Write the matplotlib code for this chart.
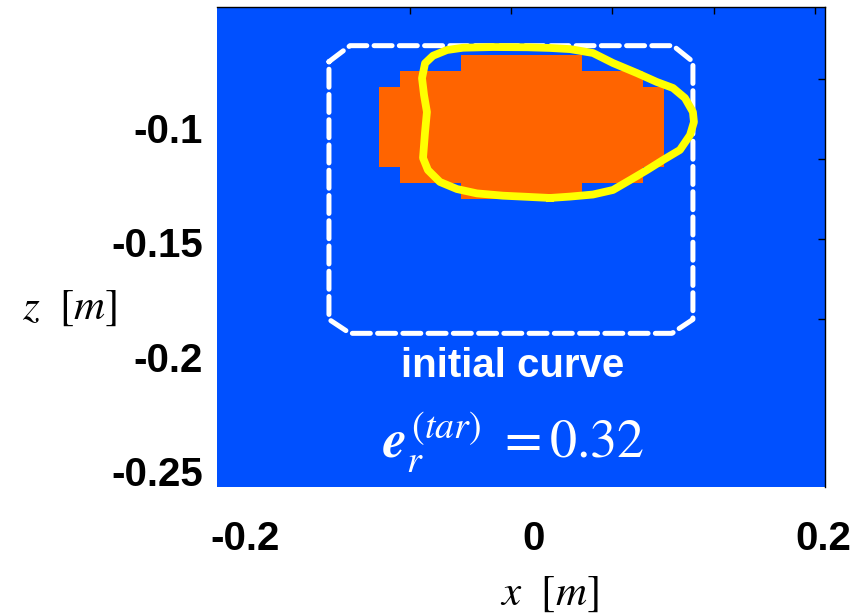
import numpy as np
import matplotlib
matplotlib.use("Agg")
import matplotlib.pyplot as plt
from matplotlib.colors import ListedColormap

plt.rcParams['axes.unicode_minus'] = False
plt.rcParams['mathtext.fontset'] = 'stix'

# ---- data ----
N = 30
XLIM = (-0.2194, 0.2014)
YLIM = (-0.257, -0.0471)
# orange blocks: (col_start, col_end, row_start, row_end), inclusive, row 0 at top
blocks = [(8, 8, 5, 9), (9, 11, 4, 10), (12, 17, 3, 11), (18, 20, 4, 10), (21, 21, 5, 9)]

xticks = [-0.2, 0.0, 0.2]
xticklabels = ['-0.2', '0', '0.2']
yticks = [-0.1, -0.15, -0.2, -0.25]
yticklabels = ['-0.1', '-0.15', '-0.2', '-0.25']
# image-index tick marks (1-based), shown on top/right
x_index_ticks = [10, 15, 20, 25, 30]
y_index_ticks = [5, 10, 15, 20]

box_x = [-0.1419, -0.1273, 0.0962, 0.1100, 0.1100, 0.0955, -0.1273, -0.1419, -0.1419]
box_y = [-0.0710, -0.0640, -0.0640, -0.0710, -0.1837, -0.1898, -0.1898, -0.1837, -0.0710]

curve_x = [0.0111, 0.0249, 0.0408, 0.0547, 0.0664, 0.0782, 0.0893, 0.1010, 0.1080, 0.1107,
           0.1100, 0.1045, 0.0962, 0.0851, 0.0713, 0.0547, 0.0408, 0.0249, 0.0111, -0.0048,
           -0.0284, -0.0491, -0.0602, -0.0699, -0.0754, -0.0775, -0.0761, -0.0741, -0.0754,
           -0.0768, -0.0734, -0.0651, -0.0533, -0.0395, -0.0215, -0.0048, 0.0111]
curve_y = [-0.1306, -0.1300, -0.1291, -0.1271, -0.1228, -0.1184, -0.1140, -0.1096, -0.1031,
           -0.0974, -0.0930, -0.0869, -0.0825, -0.0799, -0.0760, -0.0716, -0.0672, -0.0655,
           -0.0650, -0.0647, -0.0646, -0.0649, -0.0659, -0.0684, -0.0717, -0.0782, -0.0856,
           -0.0930, -0.1018, -0.1131, -0.1184, -0.1236, -0.1267, -0.1286, -0.1296, -0.1301,
           -0.1306]

BLUE = '#0050FF'
ORANGE = '#FF6400'

# ---- build image ----
img = np.zeros((N, N))
for c0, c1, r0, r1 in blocks:
    img[r0:r1 + 1, c0:c1 + 1] = 1

fig = plt.figure(figsize=(8.59, 6.16), dpi=100)
ax = fig.add_axes([0.2526, 0.2094, 0.9604 - 0.2526, 0.9886 - 0.2094])
ax.imshow(img, cmap=ListedColormap([BLUE, ORANGE]), vmin=0, vmax=1,
          extent=(XLIM[0], XLIM[1], YLIM[0], YLIM[1]), origin='upper',
          aspect='auto', interpolation='nearest')

ax.plot(box_x, box_y, color='white', lw=3.6, linestyle=(0, (3.6, 1.45)),
        dash_capstyle='round', solid_capstyle='round')
ax.plot(curve_x, curve_y, color='#FFFF00', lw=5.6, solid_joinstyle='round')

ax.set_xlim(XLIM)
ax.set_ylim(YLIM)

ax.text(-0.0149, -0.2041, 'initial curve', color='white', fontsize=29,
        fontweight='bold', family='Liberation Sans', ha='center', va='center')
ax.text(-0.0142, -0.2443, r'$\mathbfit{e}_r^{\,(tar)}\ =0.32$', color='white',
        fontsize=39, ha='center', va='baseline')

# ticks
dx = (XLIM[1] - XLIM[0]) / N
dy = (YLIM[1] - YLIM[0]) / N
ax.set_xticks(xticks)
ax.set_xticklabels(xticklabels)
ax.set_yticks(yticks)
ax.set_yticklabels(yticklabels)
ax.set_xticks([XLIM[0] + (i - 0.5) * dx for i in x_index_ticks], minor=True)
ax.set_yticks([YLIM[1] - (j - 0.5) * dy for j in y_index_ticks], minor=True)
ax.tick_params(which='major', length=0, labelsize=29, pad=0)
ax.tick_params(axis='x', which='major', pad=24)
ax.tick_params(axis='y', which='major', pad=10)
ax.tick_params(which='minor', direction='in', length=5, width=1, color='black',
               top=True, right=True, bottom=False, left=False)
for lab in ax.get_xticklabels() + ax.get_yticklabels():
    lab.set_fontweight('bold')
    lab.set_family('Liberation Sans')

for s in ['left', 'bottom']:
    ax.spines[s].set_visible(False)
for s in ['top', 'right']:
    ax.spines[s].set_linewidth(1.0)
    ax.spines[s].set_color('black')

ax.set_xlabel(r'$x\ \ [m]$', fontsize=31)
ax.xaxis.set_label_coords(0.546, -0.2208)
ax.xaxis.label.set_va('center')
ax.set_ylabel(r'$z\ \ [m]$', fontsize=31, rotation=0)
ax.yaxis.set_label_coords(-0.2418, 0.375)
ax.yaxis.label.set_va('center')
ax.yaxis.label.set_ha('center')

fig.savefig('out.png', dpi=100)
